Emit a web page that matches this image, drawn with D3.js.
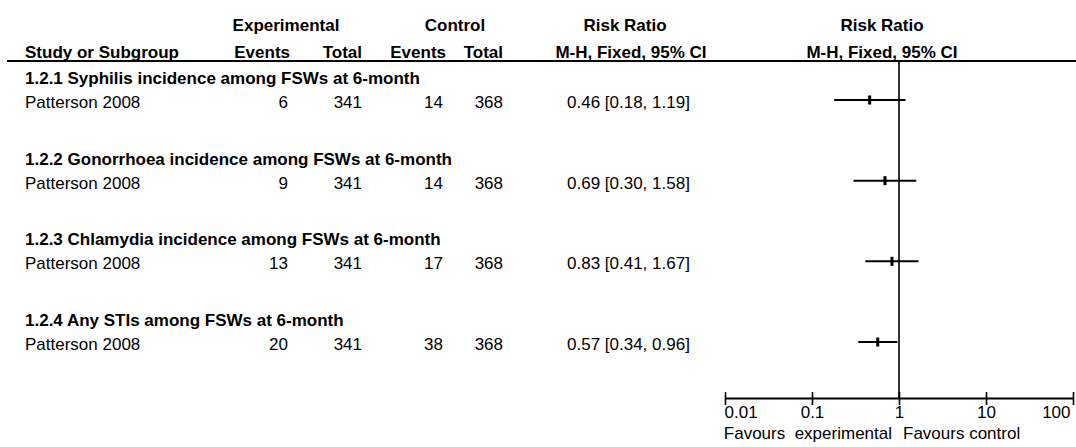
<!DOCTYPE html>
<html>
<head>
<meta charset="utf-8">
<script src="https://cdn.jsdelivr.net/npm/d3@7"></script>
<style>
  body { margin: 0; background: #fff; }
  svg text { font-family: "Liberation Sans", Arial, sans-serif; fill: #000; white-space: pre; }
  .bold { font-weight: bold; }
</style>
</head>
<body>
<div id="forest"></div>
<script>
// data
const subgroups = [
    "1.2.1 Syphilis incidence among FSWs at 6-month",
    "1.2.2 Gonorrhoea incidence among FSWs at 6-month",
    "1.2.3 Chlamydia incidence among FSWs at 6-month",
    "1.2.4 Any STIs among FSWs at 6-month"
];
const studies = ["Patterson 2008", "Patterson 2008", "Patterson 2008", "Patterson 2008"];
const expEvents = [6, 9, 13, 20];
const expTotal = [341, 341, 341, 341];
const ctrlEvents = [14, 14, 17, 38];
const ctrlTotal = [368, 368, 368, 368];
const rr = [0.46, 0.69, 0.83, 0.57];
const rrLow = [0.18, 0.30, 0.41, 0.34];
const rrHigh = [1.19, 1.58, 1.67, 0.96];
const axisTicks = [0.01, 0.1, 1, 10, 100];

const width = 1076;
const height = 447;
const fs = 17;

const svg = d3.select("#forest")
    .append("svg")
    .attr("width", width)
    .attr("height", height);

const x = d3.scaleLog().domain([0.01, 100]).range([725, 1073]);
const y = d3.scaleLinear().domain([0, 3]).range([100, 342]);
const axisY = 398;

const fmt = d3.format(".2f");

// column anchors
const col = {
    study: 25,
    expEv: 290,
    expTot: 362,
    ctrlEv: 443,
    ctrlTot: 503,
    rr: 567
};

function txt(xp, yp, s, anchor, bold) {
    svg.append("text")
        .attr("x", xp)
        .attr("y", yp)
        .attr("text-anchor", anchor || "start")
        .attr("class", bold ? "bold" : null)
        .style("font-size", fs + "px")
        .text(s);
}

// header
txt(286, 31, "Experimental", "middle", true);
txt(455, 31, "Control", "middle", true);
txt(625, 31, "Risk Ratio", "middle", true);
txt(882, 31, "Risk Ratio", "middle", true);

txt(col.study, 58, "Study or Subgroup", "start", true);
txt(col.expEv, 58, "Events", "end", true);
txt(col.expTot, 58, "Total", "end", true);
txt(col.ctrlEv + 3, 58, "Events", "end", true);
txt(col.ctrlTot, 58, "Total", "end", true);
txt(631, 58, "M-H, Fixed, 95% CI", "middle", true);
txt(882, 58, "M-H, Fixed, 95% CI", "middle", true);

svg.append("line")
    .attr("x1", 7).attr("x2", width)
    .attr("y1", 61).attr("y2", 61)
    .attr("stroke", "#000").attr("stroke-width", 2);

// rows
subgroups.forEach((s, i) => {
    const yy = y(i);
    txt(col.study, yy - 16, s, "start", true);
    txt(col.study, yy + 8, studies[i]);
    txt(col.expEv - 2, yy + 8, expEvents[i], "end");
    txt(col.expTot, yy + 8, expTotal[i], "end");
    txt(col.ctrlEv, yy + 8, ctrlEvents[i], "end");
    txt(col.ctrlTot, yy + 8, ctrlTotal[i], "end");
    txt(col.rr, yy + 8, `${fmt(rr[i])} [${fmt(rrLow[i])}, ${fmt(rrHigh[i])}]`, "start");
});

// line of no effect
svg.append("line")
    .attr("x1", x(1)).attr("x2", x(1))
    .attr("y1", 61).attr("y2", axisY)
    .attr("stroke", "#000").attr("stroke-width", 1.6);

// confidence intervals
svg.selectAll(".ci")
    .data(rr)
    .enter()
    .append("line")
    .attr("class", "ci")
    .attr("x1", (d, i) => x(rrLow[i]))
    .attr("x2", (d, i) => x(rrHigh[i]))
    .attr("y1", (d, i) => y(i))
    .attr("y2", (d, i) => y(i))
    .attr("stroke", "#000")
    .attr("stroke-width", 2);

svg.selectAll(".pt")
    .data(rr)
    .enter()
    .append("rect")
    .attr("class", "pt")
    .attr("x", d => x(d) - 1.5)
    .attr("y", (d, i) => y(i) - 4.5)
    .attr("width", 3)
    .attr("height", 9)
    .attr("fill", "#000");

// axis
const axis = d3.axisBottom(x)
    .tickValues(axisTicks)
    .tickFormat(d => String(d))
    .tickSizeOuter(0);

const gAxis = svg.append("g")
    .attr("transform", `translate(0,${axisY})`)
    .call(axis);

gAxis.select(".domain").attr("stroke", "#000").attr("stroke-width", 2);
gAxis.selectAll(".tick line")
    .attr("y1", -6).attr("y2", 7)
    .attr("stroke", "#000").attr("stroke-width", 1.6);
gAxis.selectAll(".tick text")
    .style("font-size", fs + "px")
    .style("font-family", "'Liberation Sans', Arial, sans-serif")
    .attr("fill", "#000")
    .attr("y", 20)
    .attr("dy", 0)
    .attr("text-anchor", (d, i) => i === 0 ? "start" : (i === axisTicks.length - 1 ? "end" : "middle"))
    .attr("dx", (d, i) => i === 0 ? -1 : (i === axisTicks.length - 1 ? -3 : 0));

txt(x(1) - 7, 439, "Favours  experimental", "end");
txt(x(1) + 4, 439, "Favours control", "start");
</script>
</body>
</html>
